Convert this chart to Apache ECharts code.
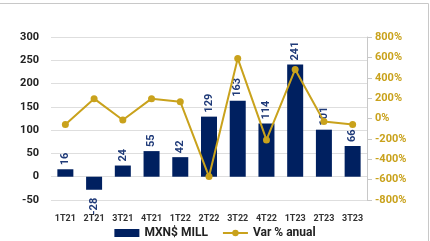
<!DOCTYPE html>
<html>
<head>
<meta charset="utf-8">
<script src="https://cdn.jsdelivr.net/npm/echarts@6/dist/echarts.min.js"></script>
<style>
  html, body { margin: 0; padding: 0; background: #fff; }
  #chart { width: 430px; height: 241px; }
</style>
</head>
<body>
<div id="chart"></div>
<script>
var categories = ['1T21', '2T21', '3T21', '4T21', '1T22', '2T22', '3T22', '4T22', '1T23', '2T23', '3T23'];
var mxnMill = [16, -28, 24, 55, 42, 129, 163, 114, 241, 101, 66];
var varAnual = [-60, 195, -15, 195, 165, -570, 590, -210, 482, -30, -60];

var FONT = 'Roboto';
var NAVY = '#002060';
var GOLD = '#C9A21C';

// negative bars: label hangs below the bar
var barData = mxnMill.map(function (v) {
    if (v < 0) {
        return { value: v, label: { position: 'insideBottom', rotate: 90, align: 'right', verticalAlign: 'middle', offset: [-12, 0] } };
    }
    return v;
});

var chart = echarts.init(document.getElementById('chart'));
var option = {
    animation: false,
    textStyle: { fontFamily: FONT },
    graphic: [{
        type: 'polyline',
        shape: { points: [[0, 3.5], [428.5, 3.5], [428.5, 241]] },
        style: { stroke: '#c8c8c8', lineWidth: 1, fill: null }
    }],
    grid: { left: 51, right: 63, top: 37, bottom: 41 },
    legend: {
        top: 222,
        left: 'center',
        itemWidth: 25,
        itemHeight: 8,
        itemGap: 14,
        textStyle: { fontFamily: FONT, fontWeight: 'bold', fontSize: 12, color: '#222' },
        data: [
            { name: 'MXN$ MILL', icon: 'rect' },
            { name: 'Var % anual' }
        ]
    },
    xAxis: {
        type: 'category',
        data: categories,
        axisLine: { show: false },
        axisTick: { show: false },
        axisLabel: { fontSize: 9, fontWeight: 'bold', color: '#333', margin: 14 }
    },
    yAxis: [{
        type: 'value',
        min: -50, max: 300, interval: 50,
        axisLine: { show: false },
        axisTick: { show: false },
        axisLabel: { fontSize: 11, fontWeight: 'bold', color: '#222', margin: 12 },
        splitLine: { lineStyle: { color: '#dedede', width: 1 } }
    }, {
        type: 'value',
        min: -800, max: 800, interval: 200,
        axisLine: { show: true, lineStyle: { color: '#c8c8c8' } },
        axisTick: { show: true, length: 5, lineStyle: { color: '#c8c8c8' } },
        axisLabel: { fontSize: 11, fontWeight: 'bold', color: GOLD, margin: 8, formatter: '{value}%' },
        splitLine: { show: false }
    }],
    series: [{
        name: 'MXN$ MILL',
        type: 'bar',
        data: barData,
        barWidth: 16,
        itemStyle: { color: NAVY },
        label: {
            show: true,
            position: 'top',
            rotate: 90,
            align: 'left',
            verticalAlign: 'middle',
            distance: 4,
            fontSize: 11,
            fontWeight: 'bold',
            color: '#1f3a78'
        }
    }, {
        name: 'Var % anual',
        type: 'line',
        yAxisIndex: 1,
        data: varAnual,
        symbol: 'circle',
        symbolSize: 7,
        lineStyle: { color: GOLD, width: 2 },
        itemStyle: { color: GOLD }
    }]
};
chart.setOption(option);
</script>
</body>
</html>
